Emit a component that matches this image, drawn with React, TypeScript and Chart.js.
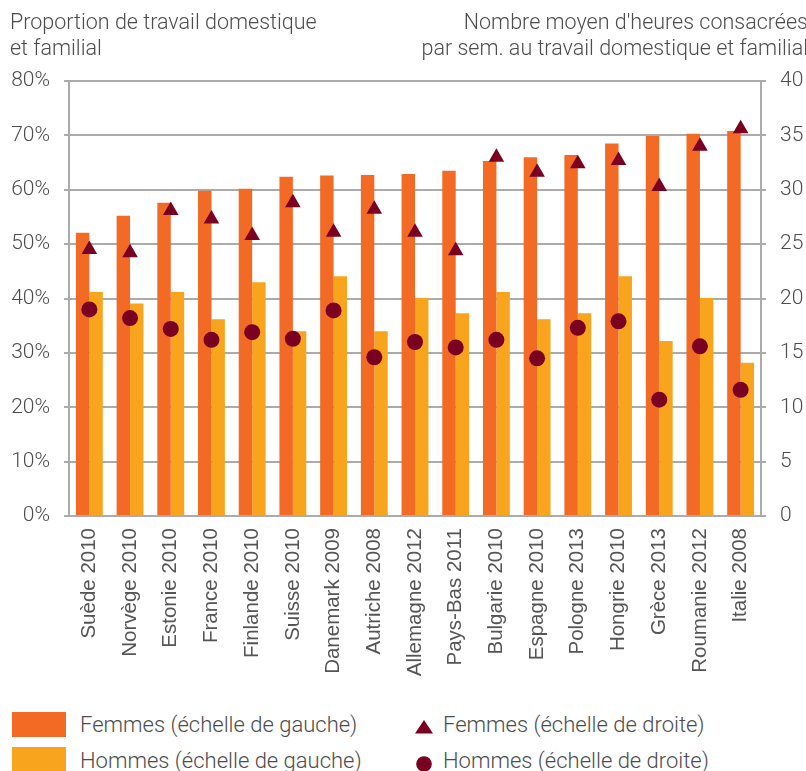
import React, { useEffect, useRef } from "react";
import { Chart, registerables } from "chart.js";

Chart.register(...registerables);

const categories = [
  "Suède 2010", "Norvège 2010", "Estonie 2010", "France 2010", "Finlande 2010",
  "Suisse 2010", "Danemark 2009", "Autriche 2008", "Allemagne 2012", "Pays-Bas 2011",
  "Bulgarie 2010", "Espagne 2010", "Pologne 2013", "Hongrie 2010", "Grèce 2013",
  "Roumanie 2012", "Italie 2008",
];
const femmesPct = [52.1, 55.2, 57.6, 59.8, 60.2, 62.4, 62.6, 62.7, 62.9, 63.5, 65.3, 66.0, 66.4, 68.5, 69.9, 70.3, 70.8];
const hommesPct = [41.2, 39.1, 41.2, 36.2, 43.0, 34.0, 44.1, 34.0, 40.1, 37.3, 41.2, 36.2, 37.3, 44.1, 32.2, 40.1, 28.2];
const femmesHeures = [24.5, 24.2, 28.1, 27.3, 25.8, 28.8, 26.1, 28.2, 26.1, 24.4, 33.0, 31.6, 32.4, 32.7, 30.3, 34.0, 35.6];
const hommesHeures = [19.0, 18.2, 17.2, 16.2, 16.9, 16.3, 18.9, 14.6, 16.0, 15.5, 16.2, 14.5, 17.3, 17.9, 10.7, 15.6, 11.6];

const leftTitle = ["Proportion de travail domestique", "et familial"];
const rightTitle = ["Nombre moyen d'heures consacrées", "par sem. au travail domestique et familial"];
const legendLabels = [
  "Femmes (échelle de gauche)",
  "Hommes (échelle de gauche)",
  "Femmes (échelle de droite)",
  "Hommes (échelle de droite)",
];

const ORANGE = "#F26A24";
const YELLOW = "#F8A51D";
const MAROON = "#7A0022";
const GRID = "#ababab";
const TEXT = "#4d4d4d";

export default function App() {
  const ref = useRef<HTMLCanvasElement | null>(null);

  useEffect(() => {
    if (!ref.current) return;
    const chart = new Chart(ref.current, {
      type: "bar",
      data: {
        labels: categories,
        datasets: [
          {
            type: "bar",
            label: legendLabels[0],
            data: femmesPct,
            backgroundColor: ORANGE,
            yAxisID: "y",
            order: 2,
            categoryPercentage: 0.66,
            barPercentage: 1.0,
          },
          {
            type: "bar",
            label: legendLabels[1],
            data: hommesPct,
            backgroundColor: YELLOW,
            yAxisID: "y",
            order: 2,
            categoryPercentage: 0.66,
            barPercentage: 1.0,
          },
          {
            type: "line",
            label: legendLabels[2],
            data: femmesHeures,
            showLine: false,
            pointStyle: "triangle",
            pointRadius: 9,
            pointBackgroundColor: MAROON,
            pointBorderColor: MAROON,
            pointBorderWidth: 0,
            yAxisID: "y1",
            order: 0,
          },
          {
            type: "line",
            label: legendLabels[3],
            data: hommesHeures,
            showLine: false,
            pointStyle: "circle",
            pointRadius: 8,
            pointBackgroundColor: MAROON,
            pointBorderColor: MAROON,
            pointBorderWidth: 0,
            yAxisID: "y1",
            order: 0,
          },
        ] as any,
      },
      options: {
        animation: false,
        responsive: false,
        maintainAspectRatio: false,
        layout: { padding: { top: 81, left: 0, right: 0, bottom: 0 } },
        plugins: {
          legend: { display: false },
          tooltip: { enabled: false },
          title: { display: false },
        },
        scales: {
          x: {
            offset: true,
            grid: { display: false, drawTicks: false },
            border: { display: true, color: GRID, width: 2 },
            ticks: {
              autoSkip: false,
              minRotation: 90,
              maxRotation: 90,
              padding: 12,
              color: "#555555",
              font: { family: "'Liberation Sans', Arial, sans-serif", size: 20.5 },
            },
            afterFit: (s: any) => { s.height = 700 - 516; },
          },
          y: {
            position: "left",
            min: 0,
            max: 80,
            ticks: {
              stepSize: 10,
              padding: 14,
              color: TEXT,
              font: { family: "Roboto", size: 21, weight: "300" },
              callback: (v: any) => v + "%",
            },
            grid: { color: GRID, lineWidth: 2, tickLength: 5, drawTicks: true },
            border: { display: true, color: GRID, width: 2 },
            afterFit: (s: any) => { s.width = 69; },
          },
          y1: {
            position: "right",
            min: 0,
            max: 40,
            ticks: {
              stepSize: 5,
              padding: 14,
              color: TEXT,
              font: { family: "Roboto", size: 21, weight: "300" },
            },
            grid: { drawOnChartArea: false, color: GRID, lineWidth: 2, tickLength: 5, drawTicks: true },
            border: { display: true, color: GRID, width: 2 },
            afterFit: (s: any) => { s.width = 806 - 761; },
          },
        },
      },
    });
    return () => chart.destroy();
  }, []);

  const titleStyle: React.CSSProperties = {
    position: "absolute",
    fontFamily: "Roboto",
    fontWeight: 300,
    fontSize: 21.5,
    lineHeight: "26px",
    color: TEXT,
    whiteSpace: "nowrap",
  };
  const legendText: React.CSSProperties = {
    position: "absolute",
    fontFamily: "Roboto",
    fontWeight: 300,
    fontSize: 22,
    lineHeight: "26px",
    color: TEXT,
    whiteSpace: "nowrap",
  };

  return (
    <div style={{ position: "absolute", left: 0, top: 0, width: 806, height: 771, background: "#fff", overflow: "hidden" }}>
      <canvas ref={ref} width={806} height={700} style={{ position: "absolute", left: 0, top: 0, width: 806, height: 700 }} />
      <div style={{ ...titleStyle, left: 10, top: 9, textAlign: "left" }}>
        {leftTitle[0]}<br />{leftTitle[1]}
      </div>
      <div style={{ ...titleStyle, right: -2, top: 9, textAlign: "right" }}>
        {rightTitle[0]}<br />{rightTitle[1]}
      </div>
      <div style={{ position: "absolute", left: 12, top: 712, width: 54, height: 25, background: ORANGE }} />
      <div style={{ position: "absolute", left: 12, top: 747, width: 54, height: 25, background: YELLOW }} />
      <div style={{ ...legendText, left: 80, top: 712 }}>{legendLabels[0]}</div>
      <div style={{ ...legendText, left: 80, top: 748 }}>{legendLabels[1]}</div>
      <svg style={{ position: "absolute", left: 415, top: 720 }} width={18} height={14}>
        <polygon points="9,0 18,13.5 0,13.5" fill={MAROON} />
      </svg>
      <svg style={{ position: "absolute", left: 416, top: 756 }} width={16} height={16}>
        <circle cx={8} cy={8} r={7.8} fill={MAROON} />
      </svg>
      <div style={{ ...legendText, left: 443, top: 712 }}>{legendLabels[2]}</div>
      <div style={{ ...legendText, left: 443, top: 748 }}>{legendLabels[3]}</div>
    </div>
  );
}
